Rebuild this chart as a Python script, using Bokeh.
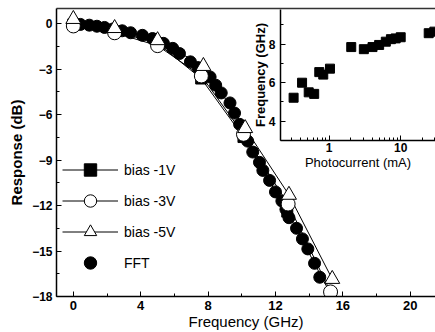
from bokeh.plotting import figure
from bokeh.models import (Range1d, LinearAxis, SingleIntervalTicker, FixedTicker,
                          Legend, LegendItem, BasicTickFormatter)
from bokeh.layouts import column
from bokeh.embed import file_html
from bokeh.resources import INLINE

# ---------------- data (main plot) ----------------
freq_1v = [0.0, 2.45, 5.0, 7.59, 10.1, 12.7, 15.3]
resp_1v = [-0.05, -0.5, -1.3, -3.62, -7.48, -12.4, -17.9]

freq_3v = [0.0, 2.45, 5.0, 7.6, 10.1, 12.75, 15.27]
resp_3v = [-0.15, -0.6, -1.45, -3.45, -7.3, -11.9, -17.7]

freq_5v = [0.0, 2.45, 5.0, 7.72, 10.2, 12.8, 15.37]
resp_5v = [0.3, -0.3, -1.1, -2.8, -6.9, -11.3, -16.85]

fft_freq = [0.42, 0.95, 1.4, 1.85, 2.35, 2.9, 3.4, 4.1, 4.7, 5.35, 5.9, 6.3,
            6.95, 7.4, 8.12, 8.45, 8.78, 9.3, 9.57, 9.87, 10.35, 10.65, 11.05,
            11.25, 11.65, 12.0, 12.38, 12.62, 12.8, 13.25, 13.6, 13.92, 14.32, 14.63]
fft_resp = [-0.05, -0.1, -0.17, -0.25, -0.35, -0.47, -0.6, -0.77, -0.98, -1.3,
            -1.63, -1.97, -2.52, -2.9, -3.52, -4.06, -4.57, -5.23, -5.9, -6.64,
            -7.75, -8.47, -9.15, -9.68, -10.34, -11.1, -11.7, -12.25, -12.8,
            -13.5, -14.2, -14.86, -15.81, -16.73]

x_ticks_interval = 4
y_ticks_interval = 3

# ---------------- data (inset) ----------------
inset_current = [0.32, 0.42, 0.52, 0.62, 0.73, 0.83, 1.03, 2.04, 3.06, 4.04,
                 5.0, 6.2, 7.3, 8.5, 10.0, 24.6, 29.5]
inset_freq = [5.22, 6.0, 5.5, 5.42, 6.55, 6.42, 6.73, 7.85, 7.74, 7.85,
              7.96, 8.13, 8.26, 8.3, 8.36, 8.57, 8.65]
inset_major = [1, 10]
inset_minor = [0.3, 0.4, 0.5, 0.6, 0.7, 0.8, 0.9, 2, 3, 4, 5, 6, 7, 8, 9, 20, 30]

FONT = "Liberation Sans"

# ---------------- main figure ----------------
p = figure(width=435, height=332, x_range=Range1d(-1, 21.5), y_range=Range1d(-18, 1),
           output_backend="svg", toolbar_location=None,
           min_border_left=56, min_border_right=0, min_border_top=8, min_border_bottom=36,
           x_axis_label="Frequency (GHz)", y_axis_label="Response (dB)")
p.outline_line_color = None
p.grid.visible = False

top = LinearAxis(ticker=FixedTicker(ticks=[]), major_tick_in=0, major_tick_out=0,
                 minor_tick_in=0, minor_tick_out=0, major_label_text_font_size="0px",
                 axis_line_color="#333333", axis_line_width=1.5)
p.add_layout(top, "above")

xa = p.below[0]
xa.ticker = SingleIntervalTicker(interval=x_ticks_interval, num_minor_ticks=2)
ya = p.left[0]
ya.ticker = SingleIntervalTicker(interval=y_ticks_interval, num_minor_ticks=2)
for ax in (xa, ya):
    ax.axis_line_width = 1.5
    ax.major_tick_in = 5
    ax.major_tick_out = 0
    ax.minor_tick_in = 3
    ax.minor_tick_out = 0
    ax.major_label_text_font = FONT
    ax.major_label_text_font_style = "bold"
    ax.major_label_text_color = "black"
    ax.axis_label_text_font = FONT
    ax.axis_label_text_color = "black"
xa.major_label_text_font_size = "13px"
xa.major_label_standoff = 4
xa.axis_label_text_font_size = "15px"
xa.axis_label_text_font_style = "normal"
xa.axis_label_standoff = 0
ya.major_label_text_font_size = "12px"
ya.major_label_standoff = 4
ya.axis_label_text_font_size = "15px"
ya.axis_label_text_font_style = "bold"
ya.axis_label_standoff = 4

l1 = p.line(freq_1v, resp_1v, line_color="black", line_width=1)
l3 = p.line(freq_3v, resp_3v, line_color="black", line_width=1)
l5 = p.line(freq_5v, resp_5v, line_color="black", line_width=1)
fft = p.scatter(fft_freq, fft_resp, marker="circle", size=12, fill_color="black", line_color="black")
s1 = p.scatter(freq_1v, resp_1v, marker="square", size=11, fill_color="black", line_color="black")
s3 = p.scatter(freq_3v, resp_3v, marker="circle", size=14, fill_color="white", line_color="black")
s5 = p.scatter(freq_5v, resp_5v, marker="triangle", size=15, fill_color="white", line_color="black")

legend = Legend(items=[LegendItem(label="bias -1V", renderers=[l1, s1]),
                       LegendItem(label="bias -3V", renderers=[l3, s3]),
                       LegendItem(label="bias -5V", renderers=[l5, s5]),
                       LegendItem(label="FFT", renderers=[fft])],
                location=(6, 18), padding=0, margin=0, spacing=0,
                glyph_width=56, glyph_height=31, label_height=31, label_standoff=6,
                label_text_font=FONT, label_text_font_size="14px", label_text_color="black",
                border_line_alpha=0, background_fill_alpha=0)
p.add_layout(legend)

# ---------------- inset ----------------
ins = figure(width=211, height=172, x_axis_type="log",
             x_range=Range1d(0.21, 30.6), y_range=Range1d(3.0, 9.8),
             output_backend="svg", toolbar_location=None,
             min_border_left=56, min_border_right=0, min_border_top=9, min_border_bottom=31,
             x_axis_label="Photocurrent (mA)", y_axis_label="Frequency (GHz)")
ins.outline_line_color = None
ins.grid.visible = False
ins.background_fill_alpha = 0
ins.border_fill_alpha = 0
ins.margin = (-332, 0, 0, 224)

ixa = ins.xaxis[0]
ixa.ticker = FixedTicker(ticks=inset_major, minor_ticks=inset_minor)
ixa.formatter = BasicTickFormatter()
iya = ins.yaxis[0]
iya.ticker = SingleIntervalTicker(interval=2, num_minor_ticks=2)
for ax in (ixa, iya):
    ax.axis_line_width = 1.5
    ax.major_tick_in = 5
    ax.major_tick_out = 0
    ax.minor_tick_in = 3
    ax.minor_tick_out = 0
    ax.major_label_text_font = FONT
    ax.major_label_text_font_style = "bold"
    ax.major_label_text_font_size = "12px"
    ax.major_label_text_color = "black"
    ax.axis_label_text_font = FONT
    ax.axis_label_text_font_size = "13px"
    ax.axis_label_text_color = "black"
ixa.major_label_standoff = 2
ixa.axis_label_standoff = 0
ixa.axis_label_text_font_style = "normal"
iya.major_label_standoff = 5
iya.axis_label_standoff = -2
iya.axis_label_text_font_style = "bold"

ins.scatter(inset_current, inset_freq, marker="square", size=9, fill_color="black", line_color="black")

layout = column(p, ins)
open("out.html", "w").write(file_html(layout, INLINE))
